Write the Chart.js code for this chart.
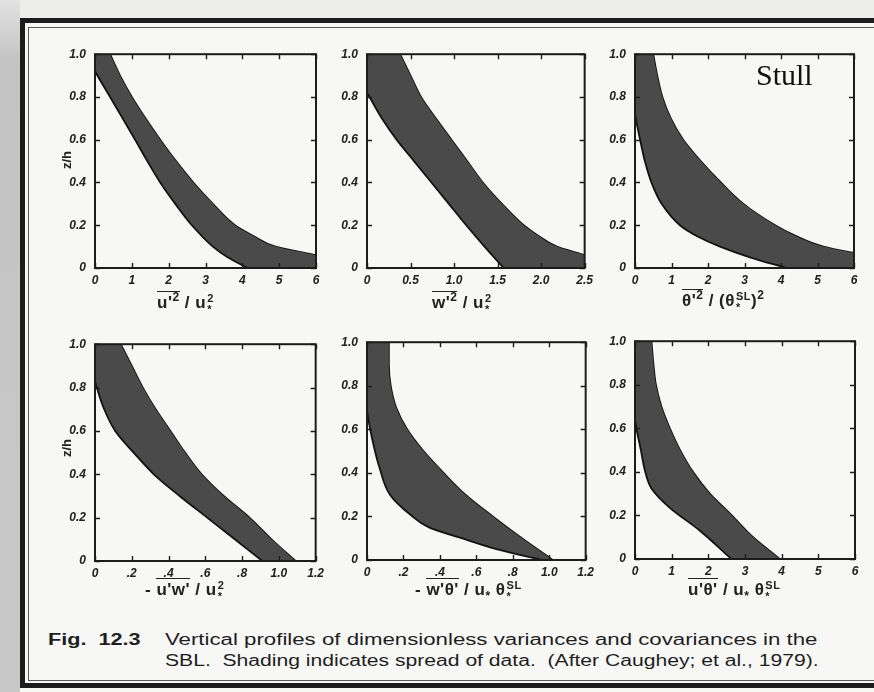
<!DOCTYPE html>
<html>
<head>
<meta charset="utf-8">
<script src="https://cdn.jsdelivr.net/npm/chart.js@4.4.1/dist/chart.umd.min.js"></script>
<style>
  body { margin: 0; width: 874px; height: 692px; overflow: hidden; background: #f7f7f5; }
  #fig { position: relative; width: 874px; height: 692px; overflow: hidden; }
  .scanTop { position: absolute; left: 0; top: 0; width: 874px; height: 18px; background: #ededeb; }
  .scanLeft { position: absolute; left: 0; top: 0; width: 20px; height: 692px;
    background: linear-gradient(to bottom, #e2e2e2 0px, #c4c4c4 60px, #c8c8c8 692px); }
  .frameOuter { position: absolute; left: 20px; top: 18px; width: 880px; height: 660px;
    border: 5px solid #1c1c1c; }
  .frameInner { position: absolute; left: 28px; top: 27px; width: 870px; height: 652px;
    border: 1.5px solid #5a5a5a; }
  canvas { position: absolute; }
  .xl { position: absolute; font: bold 17px "Liberation Sans", Arial, sans-serif; color: #222;
    white-space: nowrap; letter-spacing: 0.5px; }
  .ov { border-top: 1.6px solid #222; padding-top: 1px; }
  .sp { font-size: 12px; vertical-align: 7px; }
  .sb { font-size: 12px; vertical-align: -5px; }
  .ss { display: inline-flex; flex-direction: column; font-size: 11px; line-height: 11px;
    vertical-align: 6px; margin-left: 1px; }
  .zh { position: absolute; font: bold 13px "Liberation Sans", Arial, sans-serif; color: #222;
    transform: translate(-50%, -50%) rotate(-90deg); white-space: nowrap; }
  .stull { position: absolute; left: 756px; top: 58px; font: 30px "Liberation Serif", "Times New Roman", serif; color: #111; }
  .cap { position: absolute; font: 16px "Liberation Sans", Arial, sans-serif; color: #1e1e1e;
    white-space: pre; transform-origin: 0 0; }
  .capb { font-weight: bold; }
</style>
</head>
<body>
<div id="fig">
  <div class="scanTop"></div>
  <div class="scanLeft"></div>
  <div class="frameOuter"></div>
  <div class="frameInner"></div>

  <canvas id="c1"></canvas>
  <canvas id="c2"></canvas>
  <canvas id="c3"></canvas>
  <canvas id="c4"></canvas>
  <canvas id="c5"></canvas>
  <canvas id="c6"></canvas>

  <div class="zh" style="left:66px;top:160px">z/h</div>
  <div class="zh" style="left:66px;top:448px">z/h</div>

  <div class="xl" style="left:157px;top:290px"><span class="ov">u'<span class="sp">2</span></span> / u<span class="ss"><span>2</span><span>*</span></span></div>
  <div class="xl" style="left:432px;top:290px"><span class="ov">w'<span class="sp">2</span></span> / u<span class="ss"><span>2</span><span>*</span></span></div>
  <div class="xl" style="left:682px;top:288px"><span class="ov">θ'<span class="sp">2</span></span> / (θ<span class="ss"><span>SL</span><span>*</span></span>)<span class="sp">2</span></div>
  <div class="xl" style="left:145px;top:580px">- <span class="ov">u'w'</span> / u<span class="ss"><span>2</span><span>*</span></span></div>
  <div class="xl" style="left:415px;top:580px">- <span class="ov">w'θ'</span> / u<span class="sb">*</span> θ<span class="ss"><span>SL</span><span>*</span></span></div>
  <div class="xl" style="left:688px;top:580px"><span class="ov">u'θ'</span> / u<span class="sb">*</span> θ<span class="ss"><span>SL</span><span>*</span></span></div>

  <div class="stull">Stull</div>

  <div class="cap capb" id="capFig" style="left:48px;top:631px">Fig.  12.3</div>
  <div class="cap" id="cap1" style="left:165px;top:631px">Vertical profiles of dimensionless variances and covariances in the</div>
  <div class="cap" id="cap2" style="left:165px;top:652px">SBL.  Shading indicates spread of data.  (After Caughey; et al., 1979).</div>
</div>

<script>
// ---- data: each band is bounded by a left and a right curve (x at given z/h) ----
const zTickLabels = ['0', '0.2', '0.4', '0.6', '0.8', '1.0'];

// u'^2 / u*^2
const p1LeftZ  = [0, 0.05, 0.1, 0.2, 0.3, 0.4, 0.5, 0.6, 0.7, 0.8, 0.92, 1.0];
const p1LeftX  = [4.15, 3.6, 3.2, 2.63, 2.18, 1.77, 1.42, 1.09, 0.75, 0.41, 0.0, -0.25];
const p1RightZ = [0, 0.03, 0.06, 0.1, 0.15, 0.2, 0.3, 0.4, 0.5, 0.6, 0.7, 0.8, 0.9, 1.0];
const p1RightX = [7.6, 6.8, 6.0, 4.9, 4.3, 3.8, 3.2, 2.67, 2.2, 1.77, 1.37, 1.0, 0.68, 0.41];
const p1Ticks  = ['0', '1', '2', '3', '4', '5', '6'];

// w'^2 / u*^2
const p2LeftZ  = [0, 0.1, 0.2, 0.3, 0.4, 0.5, 0.6, 0.7, 0.82, 1.0];
const p2LeftX  = [1.57, 1.35, 1.14, 0.94, 0.74, 0.54, 0.34, 0.17, 0.0, -0.28];
const p2RightZ = [0, 0.03, 0.06, 0.1, 0.15, 0.2, 0.3, 0.4, 0.5, 0.6, 0.7, 0.8, 0.9, 1.0];
const p2RightX = [2.95, 2.72, 2.5, 2.18, 1.97, 1.80, 1.55, 1.33, 1.15, 0.97, 0.79, 0.62, 0.5, 0.38];
const p2Ticks  = ['0', '0.5', '1.0', '1.5', '2.0', '2.5'];

// theta'^2 / (theta*SL)^2
const p3LeftZ  = [0, 0.05, 0.1, 0.15, 0.2, 0.3, 0.4, 0.5, 0.6, 0.72, 0.85, 1.0];
const p3LeftX  = [4.15, 3.15, 2.33, 1.69, 1.23, 0.73, 0.45, 0.27, 0.14, 0.0, -0.1, -0.2];
const p3RightZ = [0, 0.04, 0.07, 0.1, 0.15, 0.2, 0.3, 0.4, 0.5, 0.6, 0.7, 0.8, 0.9, 1.0];
const p3RightX = [8.5, 7.0, 6.0, 5.16, 4.4, 3.84, 2.97, 2.35, 1.8, 1.32, 0.98, 0.75, 0.61, 0.5];
const p3Ticks  = ['0', '1', '2', '3', '4', '5', '6'];

// -u'w' / u*^2
const p4LeftZ  = [0, 0.1, 0.2, 0.3, 0.4, 0.5, 0.6, 0.7, 0.8, 0.83, 1.0];
const p4LeftX  = [0.91, 0.76, 0.61, 0.46, 0.32, 0.21, 0.11, 0.05, 0.01, 0.0, -0.06];
const p4RightZ = [0, 0.1, 0.2, 0.3, 0.4, 0.5, 0.6, 0.7, 0.8, 0.9, 1.0];
const p4RightX = [1.09, 0.96, 0.84, 0.70, 0.58, 0.49, 0.41, 0.33, 0.26, 0.2, 0.14];
const p4Ticks  = ['0', '.2', '.4', '.6', '.8', '1.0', '1.2'];

// -w'theta' / u* theta*SL
const p5LeftZ  = [0, 0.05, 0.1, 0.15, 0.21, 0.3, 0.42, 0.55, 0.685, 0.85, 1.0];
const p5LeftX  = [0.96, 0.71, 0.52, 0.34, 0.235, 0.126, 0.07, 0.03, 0.0, -0.02, -0.03];
const p5RightZ = [0, 0.1, 0.2, 0.3, 0.4, 0.5, 0.6, 0.7, 0.8, 0.9, 1.0];
const p5RightX = [1.02, 0.85, 0.69, 0.54, 0.42, 0.31, 0.22, 0.16, 0.13, 0.12, 0.12];
const p5Ticks  = ['0', '.2', '.4', '.6', '.8', '1.0', '1.2'];

// u'theta' / u* theta*SL
const p6LeftZ  = [0, 0.13, 0.235, 0.324, 0.4, 0.5, 0.64, 0.8, 1.0];
const p6LeftX  = [2.63, 1.77, 0.95, 0.45, 0.28, 0.16, 0.0, -0.05, -0.1];
const p6RightZ = [0, 0.1, 0.2, 0.3, 0.4, 0.5, 0.6, 0.7, 0.8, 0.9, 1.0];
const p6RightX = [3.95, 3.22, 2.64, 2.04, 1.58, 1.23, 0.95, 0.72, 0.57, 0.5, 0.45];
const p6Ticks  = ['0', '1', '2', '3', '4', '5', '6'];

// ---- layout of the six panels (plot area in page pixels) ----
const PANELS = [
  { id: 'c1', box: [95, 48, 221, 220],  xMax: 6,   step: 1,   ticks: p1Ticks, lx: p1LeftX, lz: p1LeftZ, rx: p1RightX, rz: p1RightZ },
  { id: 'c2', box: [367, 48, 219, 220], xMax: 2.5, step: 0.5, ticks: p2Ticks, lx: p2LeftX, lz: p2LeftZ, rx: p2RightX, rz: p2RightZ },
  { id: 'c3', box: [635, 48, 219, 220], xMax: 6,   step: 1,   ticks: p3Ticks, lx: p3LeftX, lz: p3LeftZ, rx: p3RightX, rz: p3RightZ },
  { id: 'c4', box: [95, 338, 222, 223], xMax: 1.2, step: 0.2, ticks: p4Ticks, lx: p4LeftX, lz: p4LeftZ, rx: p4RightX, rz: p4RightZ },
  { id: 'c5', box: [367, 336, 220, 224], xMax: 1.2, step: 0.2, ticks: p5Ticks, lx: p5LeftX, lz: p5LeftZ, rx: p5RightX, rz: p5RightZ },
  { id: 'c6', box: [635, 335, 220, 224], xMax: 6,   step: 1,   ticks: p6Ticks, lx: p6LeftX, lz: p6LeftZ, rx: p6RightX, rz: p6RightZ },
];

const PAD_L = 5, Y_W = 40, PAD_R = 12, PAD_T = 10, X_H = 26;
const TICK_FONT = { family: '"Liberation Sans", Arial, sans-serif', size: 12, weight: 'bold', style: 'italic' };

// frame + inward tick marks on all four sides
const frameTicks = {
  id: 'frameTicks',
  afterDatasetsDraw(chart) {
    const { ctx, chartArea: a, scales: { x, y } } = chart;
    ctx.save();
    ctx.strokeStyle = '#1c1c1c';
    ctx.lineWidth = 1.4;
    ctx.beginPath();
    x.ticks.forEach(t => {
      const px = Math.round(x.getPixelForValue(t.value)) + 0.5;
      ctx.moveTo(px, a.bottom); ctx.lineTo(px, a.bottom - 5);
      ctx.moveTo(px, a.top);    ctx.lineTo(px, a.top + 5);
    });
    y.ticks.forEach(t => {
      const py = Math.round(y.getPixelForValue(t.value)) + 0.5;
      ctx.moveTo(a.left, py);  ctx.lineTo(a.left + 5, py);
      ctx.moveTo(a.right, py); ctx.lineTo(a.right - 5, py);
    });
    ctx.stroke();
    ctx.lineWidth = 2;
    ctx.strokeRect(a.left, a.top, a.right - a.left, a.bottom - a.top);
    ctx.restore();
  }
};

function pts(xs, zs) {
  return xs.map((v, i) => ({ x: v, y: zs[i] }));
}

function makePanel(p) {
  const [pl, pt, pw, ph] = p.box;
  const cv = document.getElementById(p.id);
  cv.width = pw + PAD_L + Y_W + PAD_R;
  cv.height = ph + PAD_T + X_H;
  cv.style.left = (pl - PAD_L - Y_W) + 'px';
  cv.style.top = (pt - PAD_T) + 'px';

  new Chart(cv, {
    type: 'line',
    data: {
      datasets: [
        {
          data: pts(p.lx, p.lz),
          borderColor: '#121212', borderWidth: 1.8,
          backgroundColor: '#4a4a4a',
          fill: '+1', cubicInterpolationMode: 'monotone', pointRadius: 0
        },
        {
          data: pts(p.rx, p.rz),
          borderColor: '#121212', borderWidth: 1.8,
          fill: false, cubicInterpolationMode: 'monotone', pointRadius: 0
        }
      ]
    },
    options: {
      indexAxis: 'y',
      responsive: false,
      animation: false,
      devicePixelRatio: 1,
      layout: { padding: { left: PAD_L, right: PAD_R, top: PAD_T, bottom: 0 } },
      elements: { line: { capBezierPoints: false } },
      plugins: { legend: { display: false }, tooltip: { enabled: false } },
      scales: {
        x: {
          type: 'linear', min: 0, max: p.xMax,
          grid: { display: false, drawTicks: false },
          border: { display: false },
          ticks: {
            stepSize: p.step, autoSkip: false, maxRotation: 0, padding: 5,
            color: '#202020', font: TICK_FONT,
            callback: (v, i) => p.ticks[i]
          },
          afterFit: s => { s.height = X_H; }
        },
        y: {
          type: 'linear', min: 0, max: 1,
          grid: { display: false, drawTicks: false },
          border: { display: false },
          ticks: {
            stepSize: 0.2, autoSkip: false, padding: 9,
            color: '#202020', font: TICK_FONT,
            callback: (v, i) => zTickLabels[i]
          },
          afterFit: s => { s.width = Y_W; }
        }
      }
    },
    plugins: [frameTicks]
  });
}

PANELS.forEach(makePanel);

// stretch caption lines to the widths they span in the scan
function fitWidth(id, w) {
  const el = document.getElementById(id);
  el.style.transform = 'scaleX(' + (w / el.offsetWidth) + ')';
}
fitWidth('capFig', 92);
fitWidth('cap1', 653);
fitWidth('cap2', 653);
</script>
</body>
</html>
